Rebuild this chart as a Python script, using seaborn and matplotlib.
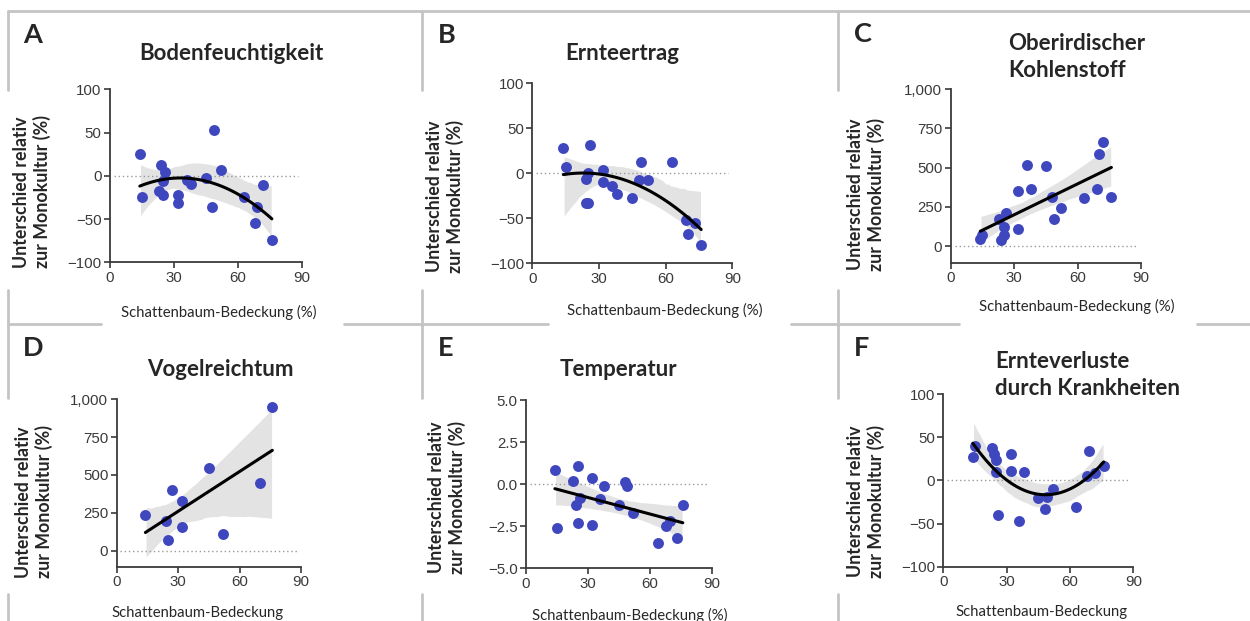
import numpy as np
import pandas as pd
import seaborn as sns
import matplotlib.pyplot as plt
from matplotlib.lines import Line2D
from matplotlib.ticker import FuncFormatter

sns.set_style("ticks")
plt.rcParams['font.family'] = ['Liberation Sans', 'DejaVu Sans']

# --- Daten ---
boden_x = [14, 15, 24, 26, 25, 23, 25, 32, 32, 36, 38, 45, 49, 48, 52, 63, 69, 68, 72, 76]
boden_y = [25, -25, 13, 4, -6, -18, -22, -22, -31, -5, -10, -3, 53, -36, 7, -25, -36, -55, -11, -74]

ertrag_x = [14, 15, 26, 25, 24, 24, 25, 32, 32, 36, 38, 45, 49, 48, 52, 63, 69, 73, 70, 76]
ertrag_y = [28, 7, 31, 0, -6, -33, -33, 4, -10, -14, -23, -27, 12, -8, -7, 13, -52, -55, -67, -80]

kohlen_x = [14, 15, 23, 26, 25, 25, 24, 32, 32, 36, 38, 45, 48, 49, 52, 63, 69, 70, 72, 76]
kohlen_y = [45, 70, 170, 213, 120, 70, 36, 350, 106, 517, 364, 513, 311, 170, 243, 304, 366, 589, 664, 311]

vogel_x = [14, 24, 25, 27, 32, 32, 45, 52, 70, 76]
vogel_y = [233, 196, 73, 399, 330, 159, 548, 112, 449, 951]

temp_x = [14, 15, 25, 23, 26, 24, 25, 32, 32, 38, 36, 45, 48, 49, 52, 64, 68, 70, 73, 76]
temp_y = [0.84, -2.6, 1.08, 0.17, -0.8, -1.24, -2.33, 0.39, -2.45, -0.13, -0.86, -1.24, 0.15, -0.13, -1.71, -3.5, -2.5, -2.2, -3.2, -1.26]

krank_x = [14, 15, 23, 24, 25, 25, 26, 32, 32, 38, 36, 45, 49, 48, 52, 63, 68, 69, 72, 76]
krank_y = [27, 40, 37, 30, 24, 10, -40, 31, 11, 10, -47, -20, -19, -33, -10, -31, 5, 34, 8, 17]

letters = ["A", "B", "C", "D", "E", "F"]
titles = ["Bodenfeuchtigkeit", "Ernteertrag", "Oberirdischer\nKohlenstoff",
          "Vogelreichtum", "Temperatur", "Ernteverluste\ndurch Krankheiten"]
xlabels = ["Schattenbaum-Bedeckung (%)"] * 3 + ["Schattenbaum-Bedeckung",
           "Schattenbaum-Bedeckung (%)", "Schattenbaum-Bedeckung"]
ylabel = "Unterschied relativ\nzur Monokultur (%)"

W, H = 1250, 621
fig = plt.figure(figsize=(W / 100, H / 100), dpi=100)


def rect(l, t, r, b):
    return [l / W, 1 - b / H, (r - l) / W, (b - t) / H]


def ftext(x, y, s, **kw):
    fig.text(x / W, 1 - y / H, s, **kw)


panels = [
    dict(x=boden_x, y=boden_y, order=2, box=rect(110, 89.3, 301.7, 262.3),
         ylim=(-100, 100), yticks=[-100, -50, 0, 50, 100], fmt="{:.0f}",
         letter=(23, 23), title=(231, 54, "center"), ylab=(32, 192), xlab=(219, 312)),
    dict(x=ertrag_x, y=ertrag_y, order=2, box=rect(532.3, 83.3, 732.3, 263.3),
         ylim=(-100, 100), yticks=[-100, -50, 0, 50, 100], fmt="{:.0f}",
         letter=(438, 23), title=(622, 54, "center"), ylab=(445, 196), xlab=(665, 310)),
    dict(x=kohlen_x, y=kohlen_y, order=1, box=rect(950.7, 89.3, 1141, 262.7),
         ylim=(-106, 1000), yticks=[0, 250, 500, 750, 1000], fmt="{:,.0f}",
         letter=(854, 22), title=(1008, 57, "left"), ylab=(866, 194), xlab=(1077, 306)),
    dict(x=vogel_x, y=vogel_y, order=1, box=rect(116.7, 399.3, 301, 566.7),
         ylim=(-106, 1000), yticks=[0, 250, 500, 750, 1000], fmt="{:,.0f}",
         letter=(23, 336), title=(220, 369, "center"), ylab=(34, 502), xlab=(198, 613)),
    dict(x=temp_x, y=temp_y, order=1, box=rect(526, 400, 711.7, 568.3),
         ylim=(-5, 5), yticks=[-5, -2.5, 0, 2.5, 5], fmt="{:.1f}",
         letter=(438, 336), title=(618, 370, "center"), ylab=(447, 497), xlab=(630, 615)),
    dict(x=krank_x, y=krank_y, order=2, box=rect(943.3, 394, 1133.3, 566.7),
         ylim=(-100, 100), yticks=[-100, -50, 0, 50, 100], fmt="{:.0f}",
         letter=(854, 336), title=(995, 375, "left"), ylab=(866, 501), xlab=(1042, 612)),
]

for i, p in enumerate(panels):
    ax = fig.add_axes(p["box"])
    df = pd.DataFrame({"x": p["x"], "y": p["y"]})
    sns.regplot(data=df, x="x", y="y", order=p["order"], ax=ax, ci=95, seed=1,
                scatter_kws=dict(s=62, color="#3f47bf", linewidths=0, alpha=1, zorder=4),
                line_kws=dict(color="black", lw=2.2, zorder=5))
    for coll in ax.collections:
        if coll.__class__.__name__ in ("PolyCollection", "FillBetweenPolyCollection"):
            coll.set_facecolor("#e3e3e3")
            coll.set_alpha(1)
            coll.set_zorder(1)
    ax.axhline(0, xmin=0.02, xmax=0.98, color="#9a9a9a", lw=1, ls=(0, (1, 2)), zorder=2)
    ax.set_xlim(0, 90)
    ax.set_ylim(*p["ylim"])
    ax.set_xticks([0, 30, 60, 90])
    ax.set_yticks(p["yticks"])
    ax.yaxis.set_major_formatter(FuncFormatter(lambda v, pos, f=p["fmt"]: f.format(v).replace("-", "\u2212")))
    ax.set_xlabel("")
    ax.set_ylabel("")
    sns.despine(ax=ax)
    for s in ("left", "bottom"):
        ax.spines[s].set_color("#3a3a3a")
        ax.spines[s].set_linewidth(1.3)
    ax.tick_params(colors="#3a3a3a", labelsize=10.8, length=4, width=1.2, pad=2)
    ax.set_facecolor("none")

    lx, ly = p["letter"]
    ftext(lx, ly, letters[i], family="Lato", weight="bold", fontsize=19.5, va="top", ha="left")
    tx, ty, ha = p["title"]
    ftext(tx, ty, titles[i], family="Lato", weight="bold", fontsize=16, va="center", ha=ha,
          linespacing=1.3)
    yx, yy = p["ylab"]
    ftext(yx, yy, ylabel, family="Lato", weight="bold", fontsize=12.8, rotation=90,
          va="center", ha="center", linespacing=1.2)
    xx, xy = p["xlab"]
    ftext(xx, xy, xlabels[i], family="Lato", fontsize=10.7, va="center", ha="center")

# graue Rahmenlinien
grey = "#c4c4c4"
segs = [((8, 1250), (11, 11))]
for vx in (8, 422, 838):
    segs += [((vx, vx), (11, 90)), ((vx, vx), (290, 398)), ((vx, vx), (594, 621))]
for a, b in ((8, 101), (344, 548), (791, 959), (1197, 1250)):
    segs.append(((a, b), (324, 324)))
for (x0, x1), (y0, y1) in segs:
    fig.add_artist(Line2D([x0 / W, x1 / W], [1 - y0 / H, 1 - y1 / H], color=grey, lw=2,
                          transform=fig.transFigure))

fig.savefig("out.png", dpi=100)
